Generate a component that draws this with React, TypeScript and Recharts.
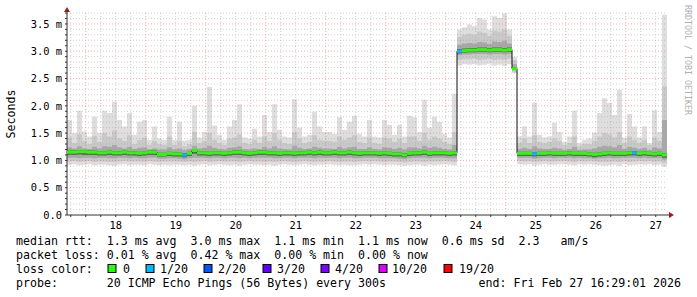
import React from 'react';
import { ComposedChart, Area, Line, XAxis, YAxis, ReferenceLine, ReferenceDot } from 'recharts';

// ---- time base: 10 days ending Fri Feb 27 16:29, 2-hour bins ----
const BIN_HOURS = 2;
const SPAN_HOURS = 240;
const FIRST_MIDNIGHT_HOUR = 7.5; // start is Feb 17 ~16:30
const dayLabels = ['18', '19', '20', '21', '22', '23', '24', '25', '26', '27'];

// ---- smoke percentiles (ms) per 2h bin ----
const maxMs = [
  1.74, 1.50, 1.91, 1.53, 1.44, 1.80, 1.50, 1.91, 1.87, 2.08,
  1.74, 1.62, 1.87, 1.47, 1.71, 1.74, 1.38, 1.62, 1.40, 1.38,
  1.80, 1.38, 1.71, 1.36, 1.38, 2.00, 1.42, 1.52, 2.35, 1.64,
  1.47, 1.38, 1.62, 1.74, 2.03, 1.42, 1.40, 1.58, 1.44, 1.83,
  1.52, 2.03, 1.56, 1.44, 1.42, 2.12, 1.60, 1.44, 1.47, 1.89,
  1.62, 1.52, 1.52, 1.49, 1.79, 1.56, 1.71, 1.82, 1.49, 1.44,
  1.74, 1.44, 1.42, 1.74, 1.65, 1.47, 1.65, 1.44, 1.82, 1.79,
  1.52, 2.11, 1.60, 1.80, 1.71, 1.49, 1.42, 2.22, 3.40, 3.44,
  3.49, 3.46, 3.61, 3.58, 3.40, 3.64, 3.61, 3.69, 3.40, 2.90,
  1.44, 1.62, 1.44, 2.06, 1.47, 1.42, 1.44, 1.69, 1.52, 1.34,
  1.44, 1.91, 1.32, 1.38, 1.40, 1.51, 1.87, 2.14, 2.05, 1.83,
  2.29, 1.42, 1.85, 1.62, 1.42, 1.62, 1.32, 1.92, 1.52, 3.67,
];
const p90Ms = [
  1.42, 1.32, 1.48, 1.36, 1.30, 1.45, 1.34, 1.50, 1.44, 1.55,
  1.40, 1.36, 1.46, 1.30, 1.38, 1.42, 1.28, 1.36, 1.30, 1.28,
  1.44, 1.28, 1.36, 1.26, 1.30, 1.52, 1.32, 1.36, 1.50, 1.38,
  1.32, 1.28, 1.40, 1.42, 1.48, 1.32, 1.30, 1.38, 1.32, 1.44,
  1.36, 1.50, 1.38, 1.32, 1.30, 1.52, 1.40, 1.32, 1.34, 1.46,
  1.38, 1.36, 1.36, 1.34, 1.44, 1.38, 1.42, 1.46, 1.34, 1.32,
  1.42, 1.32, 1.30, 1.42, 1.40, 1.34, 1.40, 1.32, 1.44, 1.44,
  1.36, 1.50, 1.38, 1.44, 1.40, 1.34, 1.30, 1.52, 3.26, 3.30,
  3.32, 3.30, 3.36, 3.34, 3.28, 3.38, 3.36, 3.40, 3.28, 2.84,
  1.32, 1.40, 1.32, 1.46, 1.34, 1.32, 1.34, 1.40, 1.36, 1.28,
  1.32, 1.44, 1.26, 1.30, 1.30, 1.36, 1.44, 1.50, 1.48, 1.42,
  1.52, 1.32, 1.44, 1.38, 1.32, 1.38, 1.28, 1.42, 1.36, 2.36,
];
const p75Ms = [
  1.24, 1.22, 1.26, 1.22, 1.21, 1.25, 1.22, 1.26, 1.25, 1.28,
  1.24, 1.22, 1.25, 1.21, 1.23, 1.24, 1.20, 1.22, 1.20, 1.20,
  1.24, 1.20, 1.22, 1.19, 1.21, 1.27, 1.22, 1.23, 1.27, 1.23,
  1.21, 1.20, 1.23, 1.24, 1.26, 1.21, 1.20, 1.22, 1.21, 1.25,
  1.22, 1.26, 1.22, 1.21, 1.20, 1.27, 1.23, 1.21, 1.22, 1.25,
  1.23, 1.22, 1.22, 1.21, 1.25, 1.22, 1.24, 1.25, 1.21, 1.21,
  1.24, 1.21, 1.20, 1.24, 1.23, 1.21, 1.23, 1.20, 1.24, 1.24,
  1.22, 1.27, 1.23, 1.25, 1.23, 1.21, 1.20, 1.28, 3.12, 3.14,
  3.15, 3.14, 3.17, 3.16, 3.13, 3.18, 3.17, 3.19, 3.14, 2.76,
  1.21, 1.23, 1.21, 1.26, 1.22, 1.21, 1.21, 1.23, 1.22, 1.19,
  1.21, 1.25, 1.19, 1.20, 1.20, 1.22, 1.25, 1.27, 1.26, 1.24,
  1.28, 1.21, 1.25, 1.23, 1.21, 1.23, 1.19, 1.24, 1.22, 1.74,
];
const p60Ms = [
  1.18, 1.18, 1.19, 1.19, 1.18, 1.18, 1.17, 1.17, 1.18, 1.17,
  1.17, 1.18, 1.17, 1.17, 1.16, 1.17, 1.18, 1.18, 1.14, 1.14,
  1.16, 1.15, 1.15, 1.13, 1.16, 1.21, 1.17, 1.17, 1.16, 1.17,
  1.17, 1.16, 1.17, 1.18, 1.18, 1.17, 1.16, 1.17, 1.18, 1.18,
  1.17, 1.17, 1.16, 1.17, 1.17, 1.16, 1.17, 1.17, 1.18, 1.17,
  1.18, 1.17, 1.17, 1.18, 1.17, 1.17, 1.18, 1.17, 1.16, 1.17,
  1.17, 1.17, 1.16, 1.17, 1.16, 1.15, 1.15, 1.13, 1.16, 1.17,
  1.17, 1.18, 1.16, 1.17, 1.17, 1.17, 1.16, 1.17, 3.04, 3.05,
  3.06, 3.06, 3.07, 3.07, 3.06, 3.07, 3.07, 3.06, 3.07, 2.71,
  1.16, 1.16, 1.16, 1.15, 1.16, 1.16, 1.17, 1.16, 1.16, 1.16,
  1.17, 1.16, 1.16, 1.16, 1.15, 1.14, 1.15, 1.16, 1.17, 1.16,
  1.16, 1.16, 1.17, 1.17, 1.16, 1.17, 1.16, 1.15, 1.16, 1.13,
];
const medianMs = [
  1.15, 1.15, 1.16, 1.16, 1.15, 1.15, 1.14, 1.14, 1.15, 1.14,
  1.14, 1.15, 1.14, 1.14, 1.13, 1.14, 1.15, 1.15, 1.11, 1.11,
  1.13, 1.12, 1.12, 1.10, 1.13, 1.18, 1.14, 1.14, 1.13, 1.14,
  1.14, 1.13, 1.14, 1.15, 1.15, 1.14, 1.13, 1.14, 1.15, 1.15,
  1.14, 1.14, 1.13, 1.14, 1.14, 1.13, 1.14, 1.14, 1.15, 1.14,
  1.15, 1.14, 1.14, 1.15, 1.14, 1.14, 1.15, 1.14, 1.13, 1.14,
  1.14, 1.14, 1.13, 1.14, 1.13, 1.12, 1.12, 1.10, 1.13, 1.14,
  1.14, 1.15, 1.13, 1.14, 1.14, 1.14, 1.13, 1.14, 3.00, 3.01,
  3.02, 3.02, 3.03, 3.03, 3.02, 3.03, 3.03, 3.02, 3.03, 2.68,
  1.13, 1.13, 1.13, 1.12, 1.13, 1.13, 1.14, 1.13, 1.13, 1.13,
  1.14, 1.13, 1.13, 1.13, 1.12, 1.11, 1.12, 1.13, 1.14, 1.13,
  1.13, 1.13, 1.14, 1.14, 1.13, 1.14, 1.13, 1.12, 1.13, 1.10,
];
const p40Ms = [
  1.10, 1.10, 1.11, 1.10, 1.10, 1.10, 1.09, 1.09, 1.10, 1.09,
  1.09, 1.10, 1.09, 1.09, 1.08, 1.09, 1.10, 1.10, 1.07, 1.07,
  1.08, 1.07, 1.07, 1.06, 1.08, 1.12, 1.09, 1.09, 1.08, 1.09,
  1.09, 1.08, 1.09, 1.10, 1.10, 1.09, 1.08, 1.09, 1.10, 1.10,
  1.09, 1.09, 1.08, 1.09, 1.09, 1.08, 1.09, 1.09, 1.10, 1.09,
  1.10, 1.09, 1.09, 1.10, 1.09, 1.09, 1.10, 1.09, 1.08, 1.09,
  1.09, 1.09, 1.08, 1.09, 1.08, 1.07, 1.07, 1.06, 1.08, 1.09,
  1.09, 1.10, 1.08, 1.09, 1.09, 1.09, 1.08, 1.09, 2.96, 2.97,
  2.98, 2.98, 2.99, 2.99, 2.98, 2.99, 2.99, 2.98, 2.99, 2.67,
  1.08, 1.08, 1.08, 1.07, 1.08, 1.08, 1.09, 1.08, 1.08, 1.08,
  1.09, 1.08, 1.08, 1.08, 1.07, 1.06, 1.07, 1.08, 1.09, 1.08,
  1.08, 1.08, 1.09, 1.09, 1.08, 1.09, 1.08, 1.07, 1.08, 1.05,
];
const p25Ms = [
  1.05, 1.05, 1.04, 1.05, 1.05, 1.04, 1.05, 1.05, 1.04, 1.04,
  1.05, 1.05, 1.04, 1.05, 1.04, 1.04, 1.05, 1.05, 1.03, 1.03,
  1.04, 1.04, 1.03, 1.02, 1.04, 1.05, 1.05, 1.05, 1.04, 1.05,
  1.05, 1.04, 1.05, 1.05, 1.04, 1.05, 1.04, 1.05, 1.05, 1.05,
  1.05, 1.04, 1.04, 1.05, 1.05, 1.04, 1.05, 1.05, 1.05, 1.04,
  1.05, 1.05, 1.05, 1.05, 1.04, 1.05, 1.05, 1.04, 1.04, 1.05,
  1.05, 1.05, 1.04, 1.04, 1.04, 1.04, 1.03, 1.02, 1.04, 1.05,
  1.05, 1.05, 1.04, 1.05, 1.05, 1.05, 1.04, 1.04, 2.93, 2.94,
  2.94, 2.95, 2.95, 2.95, 2.94, 2.95, 2.95, 2.94, 2.95, 2.65,
  1.05, 1.05, 1.05, 1.03, 1.04, 1.05, 1.05, 1.04, 1.05, 1.05,
  1.05, 1.04, 1.05, 1.04, 1.04, 1.03, 1.04, 1.04, 1.05, 1.04,
  1.04, 1.05, 1.05, 1.05, 1.04, 1.05, 1.04, 1.04, 1.04, 1.01,
];
const p10Ms = [
  0.98, 0.99, 0.97, 0.98, 0.99, 0.97, 0.98, 0.98, 0.97, 0.97,
  0.98, 0.99, 0.98, 0.98, 0.98, 0.97, 0.99, 0.98, 0.97, 0.98,
  0.98, 0.98, 0.98, 0.97, 0.98, 0.97, 0.98, 0.99, 0.97, 0.98,
  0.99, 0.98, 0.98, 0.98, 0.97, 0.98, 0.99, 0.98, 0.98, 0.97,
  0.98, 0.97, 0.98, 0.99, 0.98, 0.97, 0.98, 0.99, 0.98, 0.97,
  0.98, 0.98, 0.99, 0.98, 0.97, 0.98, 0.98, 0.97, 0.98, 0.99,
  0.98, 0.99, 0.98, 0.97, 0.98, 0.98, 0.97, 0.96, 0.97, 0.98,
  0.98, 0.97, 0.98, 0.98, 0.98, 0.99, 0.98, 0.97, 2.84, 2.85,
  2.85, 2.86, 2.84, 2.85, 2.86, 2.84, 2.85, 2.84, 2.86, 2.62,
  0.99, 0.98, 0.99, 0.97, 0.98, 0.99, 0.98, 0.98, 0.99, 0.99,
  0.98, 0.97, 0.99, 0.98, 0.99, 0.98, 0.97, 0.97, 0.97, 0.98,
  0.97, 0.99, 0.97, 0.98, 0.99, 0.98, 0.99, 0.97, 0.98, 0.95,
];
const minMs = [
  0.92, 0.93, 0.91, 0.92, 0.93, 0.91, 0.92, 0.92, 0.91, 0.90,
  0.92, 0.93, 0.91, 0.92, 0.92, 0.91, 0.93, 0.92, 0.91, 0.92,
  0.91, 0.92, 0.92, 0.91, 0.92, 0.90, 0.92, 0.93, 0.91, 0.92,
  0.93, 0.92, 0.91, 0.92, 0.90, 0.92, 0.93, 0.92, 0.92, 0.91,
  0.92, 0.90, 0.92, 0.93, 0.92, 0.91, 0.92, 0.93, 0.92, 0.91,
  0.92, 0.92, 0.93, 0.92, 0.91, 0.92, 0.91, 0.91, 0.92, 0.93,
  0.92, 0.93, 0.92, 0.91, 0.92, 0.92, 0.91, 0.90, 0.91, 0.92,
  0.92, 0.90, 0.92, 0.91, 0.92, 0.93, 0.92, 0.91, 2.74, 2.76,
  2.75, 2.76, 2.74, 2.75, 2.77, 2.74, 2.75, 2.73, 2.76, 2.60,
  0.93, 0.92, 0.93, 0.90, 0.92, 0.93, 0.92, 0.92, 0.93, 0.93,
  0.92, 0.91, 0.93, 0.92, 0.93, 0.92, 0.91, 0.90, 0.91, 0.92,
  0.90, 0.93, 0.91, 0.92, 0.93, 0.92, 0.93, 0.91, 0.92, 0.88,
];

// bins where 1 of 20 pings was lost
const lossBins = [23, 78, 93, 113];
const lossCounts = [1, 1, 1, 1];

// legend
const lossLabels = ['0', '1/20', '2/20', '3/20', '4/20', '10/20', '19/20'];
const lossThresholds = [0, 1, 2, 3, 4, 10, 19];
const lossColors = ['#26ff00', '#00b8ff', '#0059ff', '#5e00ff', '#7e00ff', '#dd00ff', '#ff0000'];
const rttStats = [['1.3', 'avg'], ['3.0', 'max'], ['1.1', 'min'], ['1.1', 'now'], ['0.6', 'sd']];
const rttAmS = '2.3';
const lossStats = [['0.01', 'avg'], ['0.42', 'max'], ['0.00', 'min'], ['0.00', 'now']];
const probeText = '20 ICMP Echo Pings (56 Bytes) every 300s';
const endText = 'end: Fri Feb 27 16:29:01 2026';

// ---- layout ----
const W = 697;
const H = 297;
const PLOT_LEFT = 67;
const PLOT_RIGHT = 667;
const PLOT_TOP = 13;
const PLOT_BOTTOM = 215;
const BIN_PX = ((PLOT_RIGHT - PLOT_LEFT) / SPAN_HOURS) * BIN_HOURS;
const Y_MAX = 3.7;
const MONO = 'DejaVu Sans Mono';
const GRID_MINOR = 'rgba(150,150,150,0.45)';
const GRID_MAJOR = 'rgba(235,110,110,0.55)';

const lossColorFor = (n: number) => {
  let c = lossColors[0];
  lossThresholds.forEach((t, i) => { if (n >= t) c = lossColors[i]; });
  return c;
};

const data: any[] = medianMs.map((m, i) => {
  const li = lossBins.indexOf(i);
  return {
    t: i * BIN_HOURS,
    outer: [minMs[i], maxMs[i]],
    mid: [p10Ms[i], p90Ms[i]],
    inner: [p25Ms[i], p75Ms[i]],
    core: [p40Ms[i], p60Ms[i]],
    median: m,
    loss: li >= 0 ? lossCounts[li] : 0,
  };
});
data.push({ ...data[data.length - 1], t: SPAN_HOURS, end: true });

const xTicks: number[] = [];
for (let h = FIRST_MIDNIGHT_HOUR - 6; h <= SPAN_HOURS; h += 6) xTicks.push(h);
const midnights = xTicks.filter((h) => (h - FIRST_MIDNIGHT_HOUR) % 24 === 0);
const minorX = xTicks.filter((h) => (h - FIRST_MIDNIGHT_HOUR) % 24 !== 0);
const xLabel = (h: number) => {
  const k = (h - FIRST_MIDNIGHT_HOUR - 12) / 24;
  return Number.isInteger(k) && k >= 0 && k < dayLabels.length ? dayLabels[k] : '';
};

const yIdx: number[] = [];
for (let k = 0; k <= Math.round(Y_MAX * 10); k++) yIdx.push(k);
const yTicks = yIdx.map((k) => k / 10);
const majorY = yIdx.filter((k) => k % 5 === 0 && k > 0).map((k) => k / 10);
const minorY = yIdx.filter((k) => k % 5 !== 0).map((k) => k / 10);
const yLabel = (v: number) => {
  const k = Math.round(v * 10);
  if (k % 5 !== 0) return '';
  return k === 0 ? '0.0' : `${(k / 10).toFixed(1)} m`;
};

const MedianSeg = (p: any) => {
  const { cx, cy, payload, index } = p;
  if (payload.end || cx == null || cy == null) return <g key={`s${index}`} />;
  return <rect key={`s${index}`} x={cx} y={cy - 1.5} width={BIN_PX} height={3} fill={lossColorFor(payload.loss)} />;
};

const XArrow = (p: any) => (
  <g>
    <line x1={p.cx} y1={p.cy} x2={p.cx + 4} y2={p.cy} stroke="#333" strokeWidth={1} />
    <polygon points={`${p.cx + 2},${p.cy - 3} ${p.cx + 7},${p.cy} ${p.cx + 2},${p.cy + 3}`} fill="#a01a1a" />
  </g>
);
const YArrow = (p: any) => (
  <g>
    <line x1={p.cx} y1={p.cy} x2={p.cx} y2={p.cy - 4} stroke="#333" strokeWidth={1} />
    <polygon points={`${p.cx - 3},${p.cy - 1} ${p.cx},${p.cy - 6} ${p.cx + 3},${p.cy - 1}`} fill="#a01a1a" />
  </g>
);

const swatchX = [108, 146, 204, 263, 321, 379, 444];
const swatchLabelX = [123, 160, 218, 277, 335, 392, 459];

export default function App() {
  const rttLine =
    'median rtt:  ' + rttStats.map(([v, k]) => `${v} ms ${k}`).join('  ') + `  ${rttAmS}   am/s`;
  const lossLine = 'packet loss: ' + lossStats.map(([v, k]) => `${v} % ${k}`).join('  ');
  const textStyle: any = { whiteSpace: 'pre' };
  return (
    <div style={{ position: 'absolute', left: 0, top: 0, width: W, height: H, background: '#fff' }}>
      <ComposedChart
        width={W}
        height={H}
        data={data}
        margin={{ top: PLOT_TOP, right: W - PLOT_RIGHT, bottom: H - PLOT_BOTTOM - 20, left: 0 }}
      >
        <XAxis
          dataKey="t"
          type="number"
          domain={[0, SPAN_HOURS]}
          ticks={xTicks}
          interval={0}
          tickFormatter={xLabel}
          height={20}
          tickSize={2}
          tickMargin={5}
          stroke="#333"
          tick={{ fontFamily: MONO, fontSize: 10.4, fill: '#000' }}
          allowDataOverflow
        />
        <YAxis
          type="number"
          domain={[0, Y_MAX]}
          ticks={yTicks}
          interval={0}
          tickFormatter={yLabel}
          width={PLOT_LEFT}
          tickSize={2}
          tickMargin={3}
          stroke="#333"
          tick={{ fontFamily: MONO, fontSize: 10.4, fill: '#000' }}
          allowDataOverflow
        />
        <Area type="stepAfter" dataKey="outer" stroke="none" fill="#dedede" fillOpacity={1} isAnimationActive={false} dot={false} activeDot={false} />
        <Area type="stepAfter" dataKey="mid" stroke="none" fill="#c9c9c9" fillOpacity={1} isAnimationActive={false} dot={false} activeDot={false} />
        <Area type="stepAfter" dataKey="inner" stroke="none" fill="#a8a8a8" fillOpacity={1} isAnimationActive={false} dot={false} activeDot={false} />
        <Area type="stepAfter" dataKey="core" stroke="none" fill="#606060" fillOpacity={1} isAnimationActive={false} dot={false} activeDot={false} />
        {minorY.map((v) => (
          <ReferenceLine key={`hy${v}`} y={v} stroke={GRID_MINOR} strokeDasharray="1 2" />
        ))}
        {majorY.map((v) => (
          <ReferenceLine key={`my${v}`} y={v} stroke={GRID_MAJOR} strokeDasharray="1 2" />
        ))}
        {minorX.map((h) => (
          <ReferenceLine key={`hx${h}`} x={h} stroke={GRID_MINOR} strokeDasharray="1 2" />
        ))}
        {midnights.map((h) => (
          <ReferenceLine key={`mx${h}`} x={h} stroke={GRID_MAJOR} strokeDasharray="1 2" />
        ))}
        <Line
          type="stepAfter"
          dataKey="median"
          stroke="#111"
          strokeWidth={1}
          dot={MedianSeg}
          activeDot={false}
          isAnimationActive={false}
        />
        <ReferenceDot x={SPAN_HOURS} y={0} r={0} ifOverflow="visible" shape={XArrow} />
        <ReferenceDot x={0} y={Y_MAX} r={0} ifOverflow="visible" shape={YArrow} />
      </ComposedChart>
      <svg width={W} height={H} style={{ position: 'absolute', left: 0, top: 0, pointerEvents: 'none' }}>
        <text
          x={15}
          y={114}
          transform="rotate(-90 15 114)"
          textAnchor="middle"
          fontFamily={MONO}
          fontSize={11.6}
          fill="#000"
        >
          Seconds
        </text>
        <text x={685} y={5} transform="rotate(90 685 5)" fontFamily={MONO} fontSize={8.3} fill="#b0b0b0">
          RRDTOOL / TOBI OETIKER
        </text>
        <g fontFamily={MONO} fontSize={11.6} fill="#000">
          <text x={16} y={245} style={textStyle}>{rttLine}</text>
          <text x={16} y={259} style={textStyle}>{lossLine}</text>
          <text x={16} y={273} style={textStyle}>loss color:</text>
          {lossLabels.map((l, i) => (
            <g key={l}>
              <rect x={swatchX[i]} y={264.5} width={8} height={8} fill={lossColors[i]} stroke="#000" strokeWidth={1} />
              <text x={swatchLabelX[i]} y={273} style={textStyle}>{l}</text>
            </g>
          ))}
          <text x={16} y={287} style={textStyle}>{'probe:       ' + probeText}</text>
          <text x={681} y={287} textAnchor="end" style={textStyle}>{endText}</text>
        </g>
      </svg>
    </div>
  );
}
